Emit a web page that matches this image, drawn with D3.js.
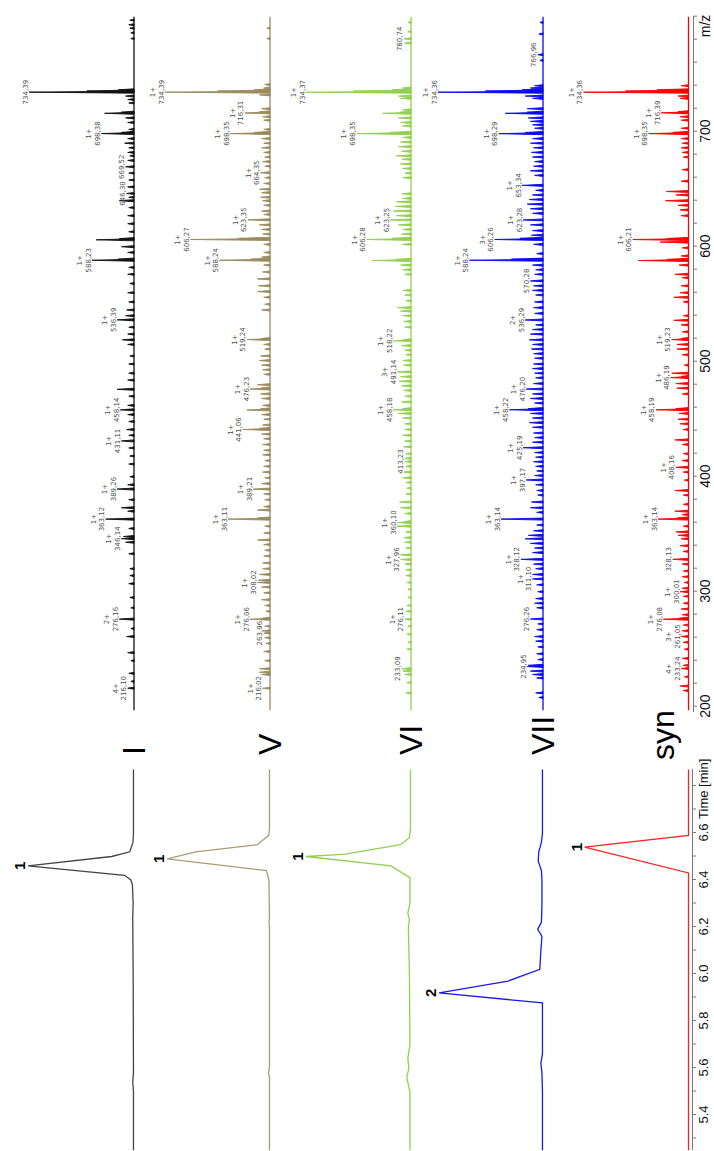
<!DOCTYPE html>
<html>
<head>
<meta charset="utf-8">
<script src="https://cdn.jsdelivr.net/npm/d3@7"></script>
<style>
body { margin: 0; background: #fff; }
svg { display: block; font-family: "Liberation Sans", Arial, sans-serif; }
</style>
</head>
<body>
<script>
// ---- data ----
var samples = ["I", "V", "VI", "VII", "syn"];
var colors = ["#111111", "#9a8b5e", "#92d050", "#0a0af0", "#ff0000"];
var chromColors = ["#444444", "#a89b78", "#92d050", "#1a1af0", "#ff2020"];

// mass spectra: [m/z, relative intensity %]
var specI = [
  [781,3],[786,3],[790,4],[793,5],[797,4],
  [725,5],[728,6],[731,8],[734.39,100],[735.4,45],[736.4,15],
  [702,5],[708,6],[712,8],[716,28],[717,12],
  [682,6],[686,5],[690,9],[694,6],[698.38,31],[699.4,12],
  [658,5],[664,5],[669.52,8],[675,6],[679,4],
  [613,5],[620,6],[627,6],[634,5],[640,14],[643,5],[646.30,7],[652,6],
  [582,5],[588.23,40],[589.2,15],[595,6],[600,12],[606,36],[607,14],
  [530,5],[536.39,16],[540,8],[545,7],[552,5],[560,6],[568,4],[576,6],
  [470,5],[476,16],[484,6],[490,5],[498,5],[505,4],[515,6],[519,11],[524,6],
  [425,5],[431.11,12],[436,5],[441,7],[448,5],[454,6],[458.14,13],[462,6],
  [370,6],[373,12],[380,5],[389.26,16],[393,6],[400,4],[411,5],[418,4],
  [320,4],[333,5],[343,8],[346.14,12],[348,10],[355,5],[363.12,27],
  [240,3],[247,6],[261,7],[268,3],[276.16,14],[286,3],[295,4],[307,5],[314,4],
  [216.10,6],[222,3],[229,5]
];
var specV = [
  [781,3],[790,3],
  [732,10],[734.39,100],[735.4,50],[736.4,15],[738,6],[741,5],
  [710,6],[713,7],[716.31,24],[717.3,10],[720,8],
  [670,5],[674,7],[678,5],[682,6],[686,8],[690,6],[694,8],[698.35,38],[699.4,15],[702,6],
  [628,6],[631,8],[636,6],[640,7],[643,9],[647,8],[650,10],[655,6],[660,5],[664.35,9],
  [602,6],[606.27,76],[607.3,30],[611,7],[615,8],[619,10],[623.35,21],
  [545,8],[550,5],[556,6],[561,12],[566,11],[572,12],[578,7],[584,6],[588.24,48],[589.2,18],[591,8],[595,6],
  [489,6],[493,7],[497,8],[501,10],[505,9],[511,5],[515,6],[519.24,22],[520.2,8],
  [450,6],[454,8],[458,22],[459,9],[462,7],[468,8],[472,9],[476.23,19],[477.2,8],[480,12],
  [394,8],[399,5],[404,7],[409,6],[414,5],[419,7],[423,6],[428,7],[433,6],[437,8],[441.06,26],[442,10],[445,7],
  [341,6],[345,12],[351,6],[357,5],[363.11,40],[364.1,12],[371,12],[374,6],[380,5],[385,6],[389.21,16],
  [283,4],[288,5],[293,8],[299,6],[304,8],[308.02,12],[310,11],[315,10],[320,7],[325,7],[331,6],[336,5],
  [240,5],[248,6],[255,4],[260,5],[263.96,6],[266,7],[270,5],[276.06,19],[277,7],
  [216.02,7],[228,8],[230,10],[233,10]
];
var specVI = [
  [777,6],[780.74,7],[787,3],[795,3],
  [729,10],[731,12],[734.37,100],[735.4,55],[736.4,18],[738,8],
  [705,8],[708,10],[712,12],[716,27],[717,10],[719,8],
  [660,8],[664,6],[668,8],[672,10],[676,9],[679,14],[683,9],[687,12],[691,10],[695,8],[698.35,52],[699.4,20],
  [627,14],[631,17],[635,15],[639,14],[642,8],[646,9],
  [602,8],[606.28,42],[607.3,18],[611,9],[615,8],[619,12],[623.25,20],
  [576,6],[580,8],[584,10],[588,37],[589,14],
  [530,6],[535,7],[540,8],[544,10],[547,13],[553,5],[558,6],[562,8],
  [497,7],[501,8],[506,5],[510,6],[514,9],[518.22,17],[519.2,7],
  [465,9],[470,6],[475,7],[479,9],[483,11],[487,10],[491.14,13],
  [416,6],[420,5],[426,7],[431,6],[436,8],[441,6],[446,6],[451,8],[455,12],[458.18,17],[459.2,8],
  [368,6],[373,10],[378,11],[385,5],[390,4],[395,5],[399,8],[404,7],[409,5],[413.23,6],
  [319,5],[324,6],[327.96,10],[332,10],[338,5],[343,6],[347,7],[352,5],[357,14],[360.10,13],[361,6],
  [250,4],[256,3],[263,4],[270,3],[276.11,6],[283,5],[288,4],[295,3],[302,3],[308,4],[314,5],
  [212,5],[221,4],[228,6],[231,8],[233.09,9]
];
var specVII = [
  [762,3],[766.96,5],[785,4],[795,3],
  [729,10],[731,17],[734.36,100],[735.4,55],[736.4,20],[738,12],[740,8],
  [703,8],[706,10],[709,12],[712,14],[716,36],[717,15],[720,15],
  [662,8],[666,12],[670,9],[674,8],[678,10],[682,11],[686,9],[690,12],[694,10],[698.29,42],[699.3,17],
  [629,10],[633,12],[637,15],[641,13],[645,10],[649,7],[653.34,20],
  [602,9],[606.26,46],[607.3,22],[610,11],[614,10],[619,12],[623.28,19],
  [542,8],[547,9],[552,8],[558,7],[562,10],[566,9],[570.28,12],[576,8],[580,7],[584,10],[588.24,70],[589.2,30],[594,6],
  [524,12],[528,10],[532,7],[536.29,17],
  [481,9],[486,7],[490,8],[494,10],[498,9],[503,8],[507,9],[511,11],[515,10],[519,13],
  [430,10],[434,8],[438,9],[443,10],[447,13],[451,10],[455,12],[458.22,32],[459.2,14],[464,8],[468,12],[472,10],[476.20,16],
  [369,6],[373,12],[378,11],[384,5],[388,6],[393,7],[397.17,16],[401,8],[405,6],[409,7],[413,9],[417,7],[421,8],[425.19,19],
  [306,6],[311.10,10],[315,10],[320,7],[324,9],[328.12,21],[334,10],[338,8],[342,12],[346,17],[349,14],[353,9],[358,6],[363.14,40],
  [241,5],[246,6],[252,5],[257,7],[261,8],[267,6],[272,5],[276.26,12],[286,6],[290,8],[294,7],[300,5],
  [208,4],[212,7],[225,6],[228,10],[231,12],[234.95,15],[236,14]
];
var specSyn = [
  [729,8],[731,10],[734.36,100],[735.4,60],[736.4,30],[740,7],
  [710,7],[713,8],[716.39,26],[717.4,10],
  [678,5],[682,6],[686,7],[690,6],[694,7],[698.35,38],[699.4,15],[703,7],
  [627,7],[632,8],[636,10],[640,22],[645,12],[648,21],[657,7],[667,6],
  [584,9],[588,48],[589,20],[592,7],[599,6],[604,27],[606.21,53],[607.2,20],
  [526,6],[532,7],[536,14],[540,5],[552,5],[556,14],[560,8],[566,7],[573,6],[576,13],
  [472,6],[477,11],[481,12],[486.19,17],[487.2,7],[490,16],[497,4],[506,6],[511,11],[515,11],[519.23,16],[520.2,7],
  [397,4],[404,5],[408.16,12],[414,6],[420,5],[428,6],[432,13],[441,5],[446,8],[450,10],[455,9],[458.19,31],[459.2,12],
  [324,6],[328.13,15],[335,5],[340,8],[346,7],[349,10],[352,12],[357,5],[363.14,29],[364.1,11],[367,6],[370,13],[376,5],[384,5],[388,13],
  [250,4],[256,5],[261.05,7],[266,6],[271,5],[276.08,24],[277,9],[280,6],[285,7],[290,5],[296,5],[300.01,8],[303,6],[308,4],[313,6],[318,5],
  [214,5],[218,8],[226,4],[233.24,7],[236,5],[242,6]
];

// annotated peaks: [m/z, charge]
var labI = [[734.39,""],[698.38,"1+"],[669.52,""],[646.30,""],[588.23,"1+"],[536.39,"1+"],[458.14,"1+"],[431.11,"1+"],[389.26,"1+"],[363.12,"1+"],[346.14,"1+"],[276.16,"2+"],[216.10,"4+"]];
var labV = [[734.39,"1+"],[716.31,"1+"],[698.35,"1+"],[664.35,"1+"],[623.35,"1+"],[606.27,"1+"],[588.24,"1+"],[519.24,"1+"],[476.23,"1+"],[441.06,"1+"],[389.21,"1+"],[363.11,"1+"],[308.02,"1+"],[276.06,"1+"],[263.96,""],[216.02,"1+"]];
var labVI = [[780.74,""],[734.37,"1+"],[698.35,"1+"],[623.25,"1+"],[606.28,"1+"],[518.22,"1+"],[491.14,"3+"],[458.18,"1+"],[413.23,""],[360.10,"1+"],[327.96,"1+"],[276.11,"1+"],[233.09,""]];
var labVII = [[766.96,""],[734.36,"1+"],[698.29,"1+"],[653.34,"1+"],[623.28,"1+"],[606.26,"3+"],[588.24,"1+"],[570.28,""],[536.29,"2+"],[476.20,"1+"],[458.22,"1+"],[425.19,"1+"],[397.17,"1+"],[363.14,"1+"],[328.12,"1+"],[311.10,"1+"],[276.26,""],[234.95,""]];
var labSyn = [[734.36,"1+"],[716.39,"1+"],[698.35,"1+"],[606.21,"1+"],[519.23,"1+"],[486.19,"1+"],[458.19,"1+"],[408.16,"1+"],[363.14,"1+"],[328.13,""],[300.01,"1+"],[276.08,"1+"],[261.05,"3+"],[233.24,"4+"]];

// chromatograms: [time min, relative intensity %]
var chromI = [[5.25,0.5],[5.50,0.5],[5.54,1.2],[5.58,0.5],[6.00,0.8],[6.24,1.2],[6.30,0.8],[6.38,1.5],[6.40,3],[6.42,9],[6.46,100],[6.50,21],[6.52,4],[6.56,1],[6.60,0.5],[6.87,0.5]];
var chromV = [[5.25,0.5],[5.56,0.5],[5.58,1.5],[5.60,0.5],[6.20,0.5],[6.22,1],[6.24,0.5],[6.40,1],[6.44,3.4],[6.49,97],[6.52,70],[6.55,12],[6.59,1.2],[6.62,0.5],[6.87,0.5]];
var chromVI = [[5.25,1],[5.50,1],[5.56,4],[5.60,2],[5.64,3],[5.70,1],[6.00,1.5],[6.20,2.5],[6.23,1.5],[6.26,3],[6.30,1],[6.41,1],[6.46,19],[6.50,99],[6.51,62],[6.55,10],[6.58,1.5],[6.62,0.5],[6.87,0.5]];
var chromVII = [[5.25,0.5],[5.50,0.5],[5.58,1],[5.62,2],[5.66,0.5],[5.877,0.5],[5.92,98],[5.97,33],[6.02,3],[6.10,2],[6.16,1],[6.19,5],[6.22,1.5],[6.30,1],[6.40,1],[6.44,1.5],[6.48,4.5],[6.52,4],[6.56,1.5],[6.60,0.5],[6.87,0.5]];
var chromSyn = [[5.25,0],[6.43,0],[6.54,98],[6.59,0],[6.87,0]];
var peakNames = ["1", "1", "1", "2", "1"];

var mzTickLabels = [200, 300, 400, 500, 600, 700];
var timeTickLabels = [5.4, 5.6, 5.8, 6.0, 6.2, 6.4, 6.6];

// ---- layout (drawn in the un-rotated frame, then turned -90deg) ----
var W = 1151, H = 714;
var baselines = [134, 270, 411, 543, 688.5];

var spectra = [specI, specV, specVI, specVII, specSyn];
var labels = [labI, labV, labVI, labVII, labSyn];
var chroms = [chromI, chromV, chromVI, chromVII, chromSyn];

var svg = d3.select("body").append("svg")
    .attr("width", H)
    .attr("height", W);

var g = svg.append("g")
    .attr("transform", "translate(0," + W + ") rotate(-90)");

var xMz = d3.scaleLinear().domain([195, 800]).range([438.55, 1134.3]);
var xT = d3.scaleLinear().domain([5.25, 6.87]).range([0.75, 381.45]);
var hS = d3.scaleLinear().domain([0, 100]).range([0, 105]);
var hC = d3.scaleLinear().domain([0, 100]).range([0, 106]);

var fmt = d3.format(".2f");

spectra.forEach(function (peaks, i) {
  var base = baselines[i];
  var sg = g.append("g");

  // baseline
  sg.append("line")
    .attr("x1", xMz(197)).attr("x2", xMz(800))
    .attr("y1", base).attr("y2", base)
    .attr("stroke", colors[i]).attr("stroke-width", 1.3);

  // peaks as narrow spikes
  sg.selectAll(null)
    .data(peaks)
    .enter().append("path")
      .attr("d", function (d) {
        return "M" + xMz(d[0] - 0.9) + "," + base +
               "L" + xMz(d[0]) + "," + (base - hS(d[1])) +
               "L" + xMz(d[0] + 0.9) + "," + base + "Z";
      })
      .attr("fill", colors[i])
      .attr("stroke", colors[i])
      .attr("stroke-width", 0.9)
      .attr("stroke-linejoin", "round");

  // annotations
  var lab = sg.selectAll(null)
    .data(labels[i])
    .enter().append("g")
      .attr("transform", function (d) {
        var p = peaks.find(function (q) { return Math.abs(q[0] - d[0]) < 0.001; });
        var tip = base - hS(p ? p[1] : 5);
        return "translate(" + xMz(d[0]) + "," + tip + ")";
      });
  lab.append("text")
    .attr("y", -1.5)
    .attr("text-anchor", "middle")
    .attr("font-family", "DejaVu Sans, Verdana, sans-serif")
    .attr("font-size", 7)
    .attr("fill", "#505050")
    .text(function (d) { return fmt(d[0]).replace(".", ","); });
  lab.append("text")
    .attr("y", -10)
    .attr("text-anchor", "middle")
    .attr("font-family", "DejaVu Sans, Verdana, sans-serif")
    .attr("font-size", 7)
    .attr("fill", "#505050")
    .text(function (d) { return d[1]; });
});

// chromatograms
chroms.forEach(function (pts, i) {
  var base = baselines[i];
  var line = d3.line()
      .x(function (d) { return xT(d[0]); })
      .y(function (d) { return base - hC(d[1]); });
  g.append("path")
    .datum(pts)
    .attr("d", line)
    .attr("fill", "none")
    .attr("stroke", chromColors[i])
    .attr("stroke-width", 1.3);

  var top = pts.reduce(function (a, b) { return b[1] > a[1] ? b : a; });
  g.append("text")
    .attr("x", xT(top[0]))
    .attr("y", base - hC(top[1]) - 3)
    .attr("text-anchor", "middle")
    .attr("font-size", 15)
    .attr("font-weight", "bold")
    .text(peakNames[i]);
});

// sample names
samples.forEach(function (s, i) {
  var t = g.append("text")
    .attr("font-size", 32)
    .attr("fill", "#000")
    .text(s);
  if (s === "syn") {
    t.attr("x", 391).attr("y", 674);
  } else {
    t.attr("x", 396).attr("y", baselines[i]).attr("dominant-baseline", "central");
  }
});

// m/z axis
var axM = g.append("g")
    .attr("transform", "translate(0,693)")
    .call(d3.axisBottom(xMz)
      .tickValues(d3.range(200, 801, 20))
      .tickSize(4).tickSizeOuter(0)
      .tickFormat(function (d) { return mzTickLabels.indexOf(d) >= 0 ? d : ""; }));
axM.select(".domain").attr("stroke", "#777");
axM.selectAll(".tick line").attr("stroke", "#777");
axM.selectAll(".tick text").attr("font-size", 14).attr("fill", "#111")
    .attr("font-family", "Liberation Sans, Arial, sans-serif");
g.append("text")
  .attr("x", xMz(792)).attr("y", 700).attr("dy", "0.71em")
  .attr("text-anchor", "middle").attr("font-size", 14).attr("fill", "#111")
  .text("m/z");

// time axis
var timeTicks = d3.range(53, 69).map(function (v) { return v / 10; });
var axT = g.append("g")
    .attr("transform", "translate(0,692)")
    .call(d3.axisBottom(xT)
      .tickValues(timeTicks)
      .tickSize(4).tickSizeOuter(0)
      .tickFormat(function (d) {
        return timeTickLabels.some(function (v) { return Math.abs(v - d) < 1e-6; }) ? d3.format(".1f")(d) : "";
      }));
axT.select(".domain").attr("stroke", "#777");
axT.selectAll(".tick line").attr("stroke", "#777");
axT.selectAll(".tick text").attr("font-size", 13).attr("fill", "#111")
    .attr("font-family", "Liberation Sans, Arial, sans-serif");
g.append("text")
  .attr("x", xT(6.66)).attr("y", 699).attr("dy", "0.71em")
  .attr("font-size", 13).attr("fill", "#111")
  .text("Time [min]");
</script>
</body>
</html>
